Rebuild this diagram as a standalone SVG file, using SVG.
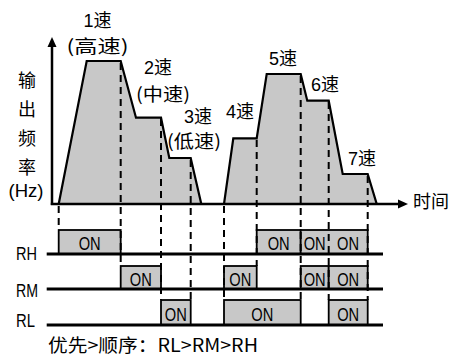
<svg xmlns="http://www.w3.org/2000/svg" width="451" height="358" viewBox="0 0 451 358">
<defs>
<style>
.t{font-family:"Liberation Sans","Noto Sans CJK SC",sans-serif;font-size:18px;fill:#000;text-anchor:middle}
.c{font-family:"Noto Sans CJK SC","Liberation Sans",sans-serif;font-size:18px;fill:#000;text-anchor:middle}
.on{font-family:"Liberation Sans",sans-serif;font-size:19px;fill:#000;text-anchor:middle}
.lab{font-family:"Liberation Sans",sans-serif;font-size:18px;fill:#000}
.wave{fill:#c8c8c8;stroke:#000;stroke-width:2.2;stroke-linejoin:miter}
.box{fill:#c8c8c8;stroke:#000;stroke-width:1.8}
.dash{stroke:#000;stroke-width:2;stroke-dasharray:7,5;fill:none}
.axis{stroke:#000;stroke-width:2.5;fill:none}
.sig{stroke:#000;stroke-width:3;fill:none}
</style>
</defs>
<rect width="451" height="358" fill="#fff"/>

<g id="waveforms">
<polygon class="wave" points="58.7,204 86.7,61 120.7,61 136,117.7 161,117.7 169.3,158 190.7,158 201.3,204"/>
<polygon class="wave" points="224,204 233.3,138.3 256.7,138.3 266.7,74 300.7,74 307.3,100.7 328.7,100.7 342.7,174 367.7,174 376.7,204"/>
</g>

<g id="boxes">
<rect class="box" x="58.7" y="230" width="62" height="24"/>
<rect class="box" x="256.7" y="230" width="44" height="24"/>
<rect class="box" x="300.7" y="230" width="67" height="24"/>
<rect class="box" x="120.7" y="266" width="40.3" height="23"/>
<rect class="box" x="224" y="266" width="32.7" height="23"/>
<rect class="box" x="300.7" y="266" width="28" height="23"/>
<rect class="box" x="328.7" y="266" width="39" height="23"/>
<rect class="box" x="161" y="300" width="29.7" height="25"/>
<rect class="box" x="224" y="300" width="76.7" height="25"/>
<rect class="box" x="328.7" y="300" width="39" height="25"/>
</g>

<g id="connectors">
<path class="axis" d="M52,205 V45"/>
<polygon points="52,37 47.5,47 56.5,47" fill="#000"/>
<path class="axis" d="M50.8,204 H399"/>
<polygon points="408,204 398,199.5 398,208.5" fill="#000"/>
<path class="dash" d="M58.7,206 V230 M120.7,63 V266 M161,119 V300 M190.7,160 V300 M224,206 V300 M256.7,140 V266 M300.7,76 V300 M328.7,102 V300 M367.7,176 V300"/>
<path class="sig" d="M46.7,254 H383 M46.7,289 H383 M46.7,325 H383"/>
</g>

<g id="labels">
<text class="t" x="97.5" y="26.5">1速</text>
<text class="c" x="97.5" y="53" textLength="62" lengthAdjust="spacingAndGlyphs">(高速)</text>
<text class="t" x="158" y="73.5">2速</text>
<text class="c" x="163" y="101" textLength="54" lengthAdjust="spacingAndGlyphs">(中速)</text>
<text class="t" x="198" y="123">3速</text>
<text class="c" x="194" y="148" textLength="54" lengthAdjust="spacingAndGlyphs">(低速)</text>
<text class="t" x="240" y="118">4速</text>
<text class="t" x="283" y="65">5速</text>
<text class="t" x="325" y="91">6速</text>
<text class="t" x="362" y="165">7速</text>
<text class="c" x="27" y="87">输</text>
<text class="c" x="27" y="116">出</text>
<text class="c" x="27" y="145">频</text>
<text class="c" x="27" y="174">率</text>
<text class="t" x="26" y="197" textLength="35" lengthAdjust="spacingAndGlyphs">(Hz)</text>
<text class="c" x="431" y="208">时间</text>
<text class="lab" x="16" y="260" textLength="21" lengthAdjust="spacingAndGlyphs">RH</text>
<text class="lab" x="16" y="297" textLength="22" lengthAdjust="spacingAndGlyphs">RM</text>
<text class="lab" x="16" y="327" textLength="19" lengthAdjust="spacingAndGlyphs">RL</text>
<text class="c" x="153" y="352" textLength="210" lengthAdjust="spacingAndGlyphs">优先&gt;顺序：RL&gt;RM&gt;RH</text>
</g>

<g id="on-labels">
<text class="on" x="89.7" y="250" textLength="22" lengthAdjust="spacingAndGlyphs">ON</text>
<text class="on" x="278.7" y="250" textLength="22" lengthAdjust="spacingAndGlyphs">ON</text>
<text class="on" x="314.7" y="250" textLength="22" lengthAdjust="spacingAndGlyphs">ON</text>
<text class="on" x="348" y="250" textLength="22" lengthAdjust="spacingAndGlyphs">ON</text>
<text class="on" x="140.8" y="286" textLength="22" lengthAdjust="spacingAndGlyphs">ON</text>
<text class="on" x="240.3" y="286" textLength="22" lengthAdjust="spacingAndGlyphs">ON</text>
<text class="on" x="314.7" y="286" textLength="22" lengthAdjust="spacingAndGlyphs">ON</text>
<text class="on" x="348.2" y="286" textLength="22" lengthAdjust="spacingAndGlyphs">ON</text>
<text class="on" x="175.8" y="321" textLength="22" lengthAdjust="spacingAndGlyphs">ON</text>
<text class="on" x="262.3" y="321" textLength="22" lengthAdjust="spacingAndGlyphs">ON</text>
<text class="on" x="348.2" y="321" textLength="22" lengthAdjust="spacingAndGlyphs">ON</text>
</g>
</svg>
